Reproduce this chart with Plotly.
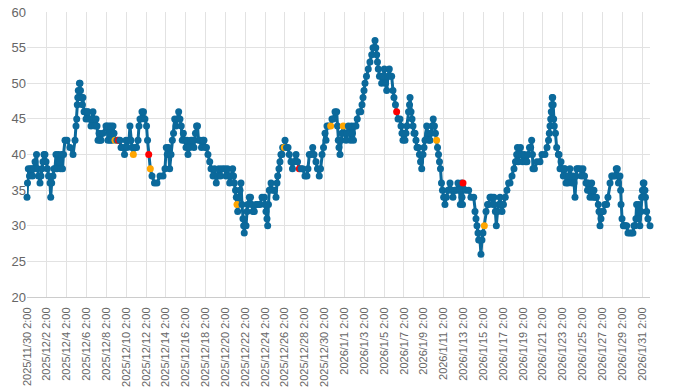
import plotly.graph_objects as go
import pandas as pd

# ---- data ----
start_time = "2025-11-30 02:00"

# time of each reading, in days after start_time
day_offset = [
    0.00, 0.05, 0.13, 0.25, 0.35, 0.47, 0.55, 0.66, 0.81, 0.96, 1.06, 1.16, 1.31, 1.41, 1.51, 1.61, 1.71, 1.81,
    1.92, 2.05, 2.17, 2.32, 2.39, 2.49, 2.62, 2.72, 2.82, 2.92, 3.02, 3.16, 3.28, 3.38, 3.48, 3.58, 3.68, 3.83,
    4.03, 4.33, 4.64, 4.84, 4.94, 5.01, 5.07, 5.12, 5.17, 5.24, 5.29, 5.34, 5.39, 5.44, 5.54, 5.59, 5.64, 5.75,
    5.85, 5.95, 6.05, 6.15, 6.25, 6.35, 6.45, 6.55, 6.65, 6.75, 6.85, 6.96, 7.06, 7.16, 7.26, 7.36, 7.46,
    7.66, 7.96, 8.06, 8.16, 8.27, 8.37, 8.47, 8.57, 8.67, 8.77, 8.87, 9.07, 9.22, 9.37, 9.48, 9.68, 9.83, 9.98,
    10.08, 10.28, 10.38, 10.48, 10.58, 10.72, 10.89, 11.04, 11.19, 11.29, 11.39, 11.49, 11.59, 11.74, 11.89,
    12.05, 12.15, 12.27, 12.43, 12.60, 12.85,
    13.10, 13.41, 13.71, 13.91, 14.04, 14.14, 14.26, 14.38, 14.52, 14.65, 14.77, 14.89, 15.02, 15.17, 15.29,
    15.42, 15.55, 15.65, 15.76, 15.88, 16.03, 16.13, 16.23, 16.38, 16.53, 16.68, 16.83, 16.98, 17.09, 17.19,
    17.29, 17.44, 17.59, 17.74, 17.84, 17.99, 18.09, 18.24, 18.42, 18.55, 18.75, 18.90, 19.08, 19.20, 19.35,
    19.50, 19.66, 19.93, 20.06, 20.21, 20.36, 20.43, 20.56, 20.73, 20.82, 20.90,
    21.02, 21.10, 21.17, 21.24, 21.37, 21.47, 21.57, 21.67, 21.77, 21.84, 21.90, 21.97, 22.08, 22.18, 22.25,
    22.41, 22.53, 22.65, 22.78, 22.91, 23.08, 23.26, 23.49, 23.69, 23.92, 23.99, 24.09, 24.19, 24.26, 24.34,
    24.42, 24.60, 24.75, 24.93, 25.10, 25.20, 25.27, 25.40, 25.50, 25.60, 25.70, 25.77, 25.94, 26.01, 26.16,
    26.31, 26.44, 26.61, 26.76, 26.91, 27.12, 27.27, 27.45, 27.62, 27.79, 28.02, 28.22, 28.32, 28.46, 28.63,
    28.80, 28.93, 29.13, 29.28, 29.46, 29.59, 29.74, 29.89, 30.04, 30.14, 30.24,
    30.39, 30.61, 30.74, 30.87, 31.05, 31.22, 31.30, 31.38, 31.45, 31.55, 31.65, 31.75, 31.88, 32.05, 32.16,
    32.26, 32.39, 32.51, 32.61, 32.71, 32.81, 32.91, 33.01, 33.16, 33.29, 33.47, 33.64, 33.77, 33.87, 33.97,
    34.07, 34.22, 34.40, 34.57, 34.75, 34.88, 35.08, 35.16, 35.25, 35.33, 35.41, 35.53, 35.68, 35.75, 35.89,
    36.02, 36.14, 36.26, 36.39, 36.52, 36.64, 36.76, 36.89, 36.99, 37.14, 37.26, 37.40, 37.60,
    37.70, 37.80, 37.90, 38.00, 38.10, 38.20, 38.30, 38.46, 38.56, 38.61, 38.71, 38.81, 38.91, 39.01, 39.11,
    39.21, 39.31, 39.44, 39.56, 39.67, 39.79, 39.92, 40.02, 40.12, 40.29, 40.42, 40.52, 40.62, 40.72, 40.82,
    40.95, 41.07, 41.17, 41.29, 41.38, 41.48, 41.58, 41.68, 41.78, 41.88, 42.00, 42.13, 42.28, 42.44, 42.64,
    42.79, 42.94, 43.14, 43.29, 43.44, 43.60, 43.68, 43.80, 43.85, 43.90, 43.95, 44.25, 44.52, 44.75, 45.03,
    45.16, 45.26, 45.36, 45.46, 45.53, 45.66, 45.76, 45.86, 45.96, 46.10, 46.27, 46.42, 46.54, 46.67, 46.77,
    46.87, 46.97, 47.07, 47.21, 47.31, 47.43, 47.55, 47.68, 47.78, 47.88, 48.03, 48.21, 48.38, 48.55, 48.69,
    48.89, 49.09, 49.24, 49.36, 49.44, 49.52, 49.64, 49.74, 49.85, 49.95, 50.13, 50.25, 50.40, 50.53, 50.65,
    50.77, 50.87, 50.95, 51.00, 51.15, 51.41, 51.71, 51.91, 52.21,
    52.42, 52.57, 52.65, 52.72, 52.79, 52.85, 52.90, 52.95, 52.99, 53.04, 53.09, 53.15, 53.27, 53.39, 53.56,
    53.63, 53.73, 53.83, 53.90, 54.06, 54.13, 54.23, 54.33, 54.40, 54.53, 54.63, 54.73, 54.84, 54.94, 55.04,
    55.14, 55.24, 55.34, 55.41, 55.54, 55.74, 55.89, 56.04, 56.20, 56.35, 56.42, 56.50, 56.58, 56.65, 56.75,
    56.85, 56.92, 57.05, 57.15, 57.25, 57.40, 57.59, 57.66, 57.76, 57.86, 57.96, 58.09,
    58.26, 58.43, 58.56, 58.77, 58.94, 59.07, 59.27, 59.40, 59.50, 59.62, 59.77, 59.84, 59.88, 59.98, 60.11,
    60.23, 60.33, 60.45, 60.58, 60.78, 60.95, 61.08, 61.18, 61.28, 61.38, 61.45, 61.53, 61.63, 61.68, 61.78,
    61.89, 61.96, 62.04, 62.12, 62.19, 62.29, 62.34, 62.46, 62.59, 62.80,
]

reading = [
    34, 36, 38, 37, 38, 38, 37, 38, 39, 40, 38, 37, 36, 37, 38, 39, 40, 40,
    39, 38, 37, 36, 34, 36, 37, 38, 38, 40, 38, 40, 39, 38, 40, 38, 40, 42,
    42, 41, 40, 42, 44, 45, 47, 48, 49, 48, 50, 50, 49, 48, 48, 47, 48, 46,
    46, 45, 46, 46, 45, 45, 44, 45, 46, 45, 44, 45, 44, 42, 43, 42, 42,
    43, 44, 44, 42, 44, 42, 44, 42, 44, 43, 42, 42, 42, 42, 41, 41, 40, 42,
    41, 42, 44, 42, 41, 40, 41, 41, 42, 44, 45, 45, 46, 46, 45,
    44, 42, 40, 38, 37, 36,
    36, 37, 37, 38, 41, 40, 41, 38, 40, 42, 43, 45, 44, 45, 46,
    45, 44, 42, 43, 42, 41, 42, 40, 41, 42, 42, 41, 43, 44, 44,
    42, 42, 41, 42, 42, 41, 41, 40, 39, 38, 37, 38, 36, 37, 38,
    37, 38, 38, 37, 38, 37, 36, 37, 38, 37, 36,
    35, 34, 33, 32, 34, 35, 36, 33, 31, 30, 29, 30, 30, 32, 33,
    34, 34, 33, 32, 32, 33, 33, 33, 34, 34, 33, 32, 31, 30, 33,
    35, 36, 35, 35, 34, 36, 37, 38, 39, 40, 40, 41, 41, 42, 41,
    41, 40, 39, 38, 39, 40, 39, 38, 38, 38, 37, 37, 38, 40, 40,
    41, 40, 39, 38, 37, 38, 40, 41, 43, 42, 44,
    44, 44, 45, 45, 46, 46, 44, 42, 41, 40, 42, 43, 44, 43, 42,
    43, 44, 43, 42, 44, 43, 42, 44, 44, 45, 46, 46, 47, 48, 49,
    50, 51, 52, 53, 54, 55, 56, 55, 54, 53, 52, 51, 51, 50, 51,
    52, 50, 49, 51, 52, 51, 51, 49, 48, 47, 46, 45, 45,
    44, 43, 42, 43, 42, 43, 44, 46, 47, 48, 46, 45, 44, 43, 43,
    42, 41, 41, 40, 39, 38, 40, 41, 42, 44, 43, 42, 42, 43, 44,
    45, 44, 43, 42, 41, 40, 39, 38, 36, 35, 34, 33, 34, 35, 36,
    35, 34, 35, 35, 36, 35, 33, 36, 34, 33, 36, 35, 35, 34, 34,
    32, 31, 30, 29, 28, 28, 26, 28, 29, 30, 32, 33, 33, 34, 34,
    34, 33, 34, 32, 30, 32, 33, 34, 33, 32, 33, 34, 35, 36, 36,
    37, 38, 39, 40, 41, 39, 40, 41, 40, 39, 40, 39, 39, 40, 41,
    41, 42, 40, 38, 38, 39, 39, 40, 40,
    41, 42, 43, 44, 45, 46, 47, 48, 48, 47, 45, 44, 43, 41, 40,
    40, 38, 39, 38, 37, 38, 38, 36, 37, 36, 37, 38, 37, 36, 37,
    36, 34, 37, 38, 38, 38, 37, 38, 37, 36, 36, 35, 36, 35, 34,
    35, 36, 34, 35, 34, 34, 33, 32, 30, 31, 32, 32,
    33, 33, 34, 36, 37, 37, 37, 38, 38, 36, 37, 35, 33, 31, 30,
    30, 30, 30, 29, 29, 29, 29, 30, 30, 31, 33, 31, 31, 33, 30,
    32, 34, 35, 36, 36, 35, 34, 32, 31, 30,
]

# readings flagged as warnings (orange) and alarms (red), by day offset
warning_days = [8.87, 10.72, 12.43, 21.17, 25.94, 30.61, 31.88, 41.29, 46.10]
alarm_days = [9.22, 12.27, 27.45, 37.26, 43.95]

x_end_day = 62.80
y_min, y_max, y_step = 20, 60, 5

assert len(day_offset) == len(reading)

# ---- build figure ----
BLUE = "#0b699b"
t0 = pd.Timestamp(start_time)
times = t0 + pd.to_timedelta(day_offset, unit="D")
x_end = t0 + pd.to_timedelta(x_end_day, unit="D")

marker_colors = []
for d in day_offset:
    if d in alarm_days:
        marker_colors.append("#ff0000")
    elif d in warning_days:
        marker_colors.append("#ffa500")
    else:
        marker_colors.append(BLUE)

fig = go.Figure(
    go.Scatter(
        x=times,
        y=reading,
        mode="lines+markers",
        line=dict(color=BLUE, width=3),
        marker=dict(size=7, color=marker_colors, line=dict(width=0)),
        hoverinfo="x+y",
        showlegend=False,
        cliponaxis=False,
    )
)

fig.update_layout(
    width=700,
    height=392,
    margin=dict(l=27, r=50, t=12, b=95, autoexpand=False),
    paper_bgcolor="white",
    plot_bgcolor="white",
    font=dict(family="Liberation Sans, Arial, sans-serif", color="#666666"),
)

fig.update_xaxes(
    type="date",
    range=[t0, x_end],
    tick0=t0,
    dtick=2 * 86400000,
    tickformat="%Y/%-m/%-d %-H:%M",
    tickangle=-90,
    tickfont=dict(size=11, color="#666666"),
    ticklabelstandoff=5,
    showgrid=True,
    gridcolor="#e2e2e2",
    gridwidth=1,
    showline=True,
    linecolor="#cccccc",
    linewidth=1,
    ticks="",
    zeroline=False,
    automargin=False,
)

fig.update_yaxes(
    range=[y_min, y_max],
    dtick=y_step,
    tick0=y_min,
    tickfont=dict(size=13, color="#666666"),
    showgrid=True,
    gridcolor="#e2e2e2",
    gridwidth=1,
    showline=False,
    zeroline=False,
    ticks="",
    automargin=False,
)

# remove the page's default body margin so the figure sits at the window origin
fig.write_html(
    "out.html",
    config={"displayModeBar": False},
    post_script="document.body.style.margin='0';document.body.style.overflow='hidden';",
)
